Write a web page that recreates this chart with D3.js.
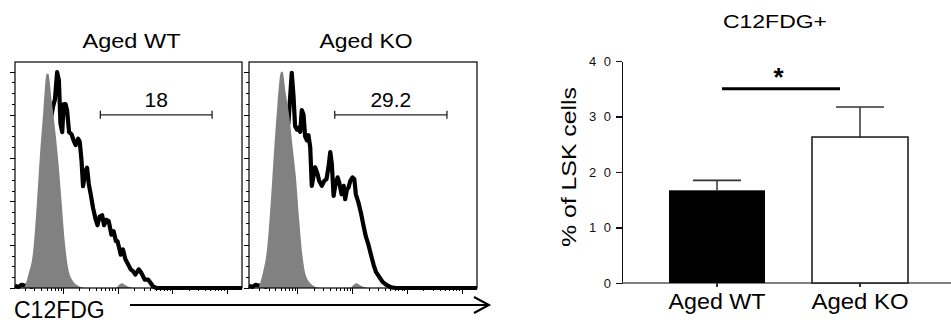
<!DOCTYPE html>
<html>
<head>
<meta charset="utf-8">
<script src="https://cdn.jsdelivr.net/npm/d3@7/dist/d3.min.js"></script>
<style>
  body { margin: 0; background: #fff; }
  svg { display: block; font-family: "Liberation Sans", Arial, sans-serif; }
  .axis path, .axis line { fill: none; shape-rendering: crispEdges; }
</style>
</head>
<body>
<div id="viz"></div>
<script>
// ---- data ----
// histogram panels: [channel, % of max]
const panelTitles = ["Aged WT", "Aged KO"];
const gateLabels = ["18", "29.2"];
const gateRange = [385, 889];
const gateLevel = 80;

const ctrlWT = [[0,0],[38,0],[60,6],[83,18],[98,38],[113,62],[128,82],[143,99],[150,99],[165,87],[180,74],[195,59],[210,40],[225,21],[240,9],[263,3],[285,1],[315,0],[455,0],[470,1.5],[482,2.2],[495,1.5],[515,0.5],[540,0]];
const ctrlKO = [[0,0],[38,0],[60,6],[83,20],[98,40],[113,64],[128,85],[143,99.5],[150,100],[165,90],[180,80],[195,66],[210,52],[225,32],[240,15],[255,6],[278,2],[300,0.5],[322,0],[455,0],[470,1.5],[482,2.2],[495,1.5],[515,0.5],[540,0]];

const stainWT = [[0,1],[15,0.5],[30,1.5],[45,1],[60,1.2],[75,0.5],[90,3],[105,15],[120,38],[135,58],[150,72],[165,80],[172,84],[180,87],[190,99.7],[198,96],[205,76],[213,72],[220,85],[228,85],[235,82],[244,72],[255,71],[265,68],[274,66],[285,69],[292,67.6],[300,59],[307,47],[318,54],[325,55.6],[333,48],[342,43],[352,37],[363,32],[372,29],[382,33],[393,33.6],[402,29],[412,31.5],[423,30.8],[435,24.6],[445,26.2],[455,21.7],[462,21.7],[470,18.5],[477,15.4],[487,17.8],[498,13.3],[510,11],[522,8.6],[532,7.8],[543,6.2],[558,8.6],[570,7],[585,3.9],[600,3.9],[612,2.3],[622,0.8],[638,0],[1024,0]];
const stainKO = [[0,1],[15,0.5],[30,1.5],[45,1],[60,1.2],[75,0.5],[90,3],[105,12],[120,35],[135,55],[150,68],[165,72],[177,76],[192,99.4],[200,88.5],[207,74.8],[215,73.2],[222,74],[230,72.1],[237,82.2],[245,80],[252,70],[260,68.2],[267,70.6],[275,65],[282,47.2],[290,51.9],[297,55.8],[308,52.6],[315,49.5],[327,47.2],[338,49.5],[348,50.3],[357,55.8],[365,62.8],[372,57.3],[380,42.5],[387,47.2],[398,51.1],[405,48.8],[416,43.3],[425,47.2],[432,41],[440,45.6],[447,46.4],[455,49.5],[465,51.1],[473,50.3],[480,43.3],[492,39.3],[503,34.6],[515,28.4],[525,23.7],[537,19.8],[548,15.2],[560,10.6],[570,7.5],[585,5.1],[600,2.8],[615,1.6],[638,0.3],[660,0],[1024,0]];

// bar chart
const groups = ["Aged WT", "Aged KO"];
const means = [16.7, 26.3];
const sems = [1.8, 5.4];
const yTicks = [0, 10, 20, 30, 40];
const sigLevel = 35;

// ---- layout ----
const W = 951, H = 322;
const svg = d3.select("#viz").append("svg").attr("width", W).attr("height", H);

const panels = [
  {x0: 15, x1: 242, ctrl: ctrlWT, stain: stainWT, titleW: 98},
  {x0: 249, x1: 477, ctrl: ctrlKO, stain: stainKO, titleW: 93}
];
const hy0 = 62, hy1 = 288;

panels.forEach(function(p, i) {
  let g = svg.append("g");
  let x = d3.scaleLinear().domain([0, 1024]).range([p.x0, p.x1]);
  let y = d3.scaleLinear().domain([0, 104.4]).range([hy1, hy0]);

  // stained sample (thick black line), drawn under the control fill
  g.append("path")
    .datum(p.stain)
    .attr("d", d3.line().x(d => x(d[0])).y(d => y(d[1])))
    .style("fill", "none")
    .style("stroke", "#000")
    .style("stroke-width", 4.2)
    .style("stroke-linejoin", "round");

  // control (grey filled)
  g.append("path")
    .datum(p.ctrl)
    .attr("d", d3.area().curve(d3.curveMonotoneX).x(d => x(d[0])).y0(y(0)).y1(d => y(d[1])))
    .style("fill", "#818181");

  // frame
  g.append("rect")
    .attr("x", p.x0).attr("y", hy0)
    .attr("width", p.x1 - p.x0).attr("height", hy1 - hy0)
    .style("fill", "none").style("stroke", "#000").style("stroke-width", 1.2);

  // y ticks (minor / major)
  let yMinor = d3.range(0, 105, 5).filter(v => v % 20 !== 0);
  g.append("g").attr("class", "axis")
    .attr("transform", "translate(" + p.x0 + ",0)")
    .call(d3.axisLeft(y).tickValues(yMinor).tickSize(3).tickFormat(""))
    .call(s => s.select(".domain").remove());
  g.append("g").attr("class", "axis")
    .attr("transform", "translate(" + p.x0 + ",0)")
    .call(d3.axisLeft(y).tickValues([0, 20, 40, 60, 80, 100]).tickSize(5).tickFormat(""))
    .call(s => s.select(".domain").remove());

  // x ticks, log decades
  let lx = d3.scaleLog().domain([Math.pow(10, 1.12), Math.pow(10, 5.28)]).range([p.x0, p.x1]);
  let all = lx.ticks();
  let majors = all.filter(v => Math.abs(Math.log10(v) - Math.round(Math.log10(v))) < 1e-9);
  let minors = all.filter(v => majors.indexOf(v) < 0);
  g.append("g").attr("class", "axis")
    .attr("transform", "translate(0," + hy1 + ")")
    .call(d3.axisBottom(lx).tickValues(minors).tickSize(3).tickFormat(""))
    .call(s => s.select(".domain").remove());
  g.append("g").attr("class", "axis")
    .attr("transform", "translate(0," + hy1 + ")")
    .call(d3.axisBottom(lx).tickValues(majors).tickSize(6).tickFormat(""))
    .call(s => s.select(".domain").remove());

  // gate
  let gy = y(gateLevel);
  g.append("line")
    .attr("x1", x(gateRange[0])).attr("x2", x(gateRange[1]))
    .attr("y1", gy).attr("y2", gy)
    .style("stroke", "#222").style("stroke-width", 1.3);
  gateRange.forEach(function(v) {
    g.append("line")
      .attr("x1", x(v)).attr("x2", x(v))
      .attr("y1", gy - 4).attr("y2", gy + 4)
      .style("stroke", "#222").style("stroke-width", 1.3);
  });
  g.append("text")
    .attr("x", x((gateRange[0] + gateRange[1]) / 2))
    .attr("y", gy - 8)
    .attr("text-anchor", "middle")
    .style("font-size", "21px")
    .text(gateLabels[i]);

  // panel title
  g.append("text")
    .attr("x", (p.x0 + p.x1) / 2 + 3)
    .attr("y", 48)
    .attr("text-anchor", "middle")
    .attr("textLength", p.titleW)
    .attr("lengthAdjust", "spacingAndGlyphs")
    .style("font-size", "20px")
    .text(panelTitles[i]);
});

// x label + arrow
svg.append("text")
  .attr("x", 14).attr("y", 318)
  .style("font-size", "23px")
  .text("C12FDG");
svg.append("line")
  .attr("x1", 130).attr("x2", 489).attr("y1", 305).attr("y2", 305)
  .style("stroke", "#000").style("stroke-width", 2);
svg.append("path")
  .attr("d", "M474,297 L489,305 L474,313")
  .style("fill", "none").style("stroke", "#000").style("stroke-width", 2);

// ---- bar chart ----
const bx = d3.scaleBand().domain(groups).range([622, 955]).padding(0.3287);
const by = d3.scaleLinear().domain([0, 40]).range([283, 61]);

svg.append("text")
  .attr("x", 775).attr("y", 28)
  .attr("text-anchor", "middle")
  .attr("textLength", 104)
  .attr("lengthAdjust", "spacingAndGlyphs")
  .style("font-size", "19px")
  .text("C12FDG+");

// y axis
let yAx = svg.append("g").attr("class", "axis")
  .attr("transform", "translate(622,0)")
  .call(d3.axisLeft(by).tickValues(yTicks).tickSize(6).tickSizeOuter(0).tickPadding(5)
    .tickFormat(d => String(d).split("").join(" ")));
yAx.selectAll("line, path").style("stroke", "#111").style("stroke-width", 1.4);
yAx.selectAll("text").style("font-size", "13px").style("fill", "#111")
  .style("font-family", "\"Liberation Sans\", Arial, sans-serif")
  .attr("textLength", d => d >= 10 ? 22 : null);

// x axis
svg.append("line")
  .attr("x1", 622).attr("x2", W).attr("y1", by(0)).attr("y2", by(0))
  .style("stroke", "#555").style("stroke-width", 1.6);
let xAx = svg.append("g").attr("class", "axis")
  .attr("transform", "translate(0," + by(0) + ")")
  .call(d3.axisBottom(bx).tickSize(4).tickPadding(6));
xAx.select(".domain").remove();
xAx.selectAll("line").style("stroke", "#333").style("stroke-width", 1.3);
xAx.selectAll("text").style("font-size", "22px").style("fill", "#000")
  .style("font-family", "\"Liberation Sans\", Arial, sans-serif")
  .attr("textLength", 97).attr("lengthAdjust", "spacingAndGlyphs");

// error bars (upper only)
groups.forEach(function(gname, i) {
  let cx = bx(gname) + bx.bandwidth() / 2;
  let top = by(means[i] + sems[i]);
  svg.append("line")
    .attr("x1", cx).attr("x2", cx).attr("y1", by(means[i])).attr("y2", top)
    .style("stroke", "#333").style("stroke-width", 1.5);
  svg.append("line")
    .attr("x1", cx - bx.bandwidth() / 4).attr("x2", cx + bx.bandwidth() / 4)
    .attr("y1", top).attr("y2", top)
    .style("stroke", "#333").style("stroke-width", 1.6);
});

// bars
svg.selectAll(".bar")
  .data(groups)
  .enter().append("rect")
  .attr("class", "bar")
  .attr("x", d => bx(d))
  .attr("width", bx.bandwidth())
  .attr("y", (d, i) => by(means[i]))
  .attr("height", (d, i) => by(0) - by(means[i]))
  .style("fill", (d, i) => i === 0 ? "#000" : "#fff")
  .style("stroke", (d, i) => i === 0 ? "none" : "#222")
  .style("stroke-width", 1.6);

// significance
let c0 = bx(groups[0]) + bx.bandwidth() / 2, c1 = bx(groups[1]) + bx.bandwidth() / 2;
svg.append("line")
  .attr("x1", c0 + 5).attr("x2", c1 - 20)
  .attr("y1", by(sigLevel)).attr("y2", by(sigLevel))
  .style("stroke", "#000").style("stroke-width", 2.8);
svg.append("text")
  .attr("x", (c0 + c1) / 2 - 10).attr("y", by(sigLevel) - 3)
  .attr("text-anchor", "middle")
  .style("font-size", "26px").style("font-weight", "bold")
  .text("*");

// y label
svg.append("text")
  .attr("transform", "translate(576,167) rotate(-90)")
  .attr("text-anchor", "middle")
  .attr("textLength", 160)
  .attr("lengthAdjust", "spacingAndGlyphs")
  .style("font-size", "21px")
  .text("% of LSK cells");
</script>
</body>
</html>
